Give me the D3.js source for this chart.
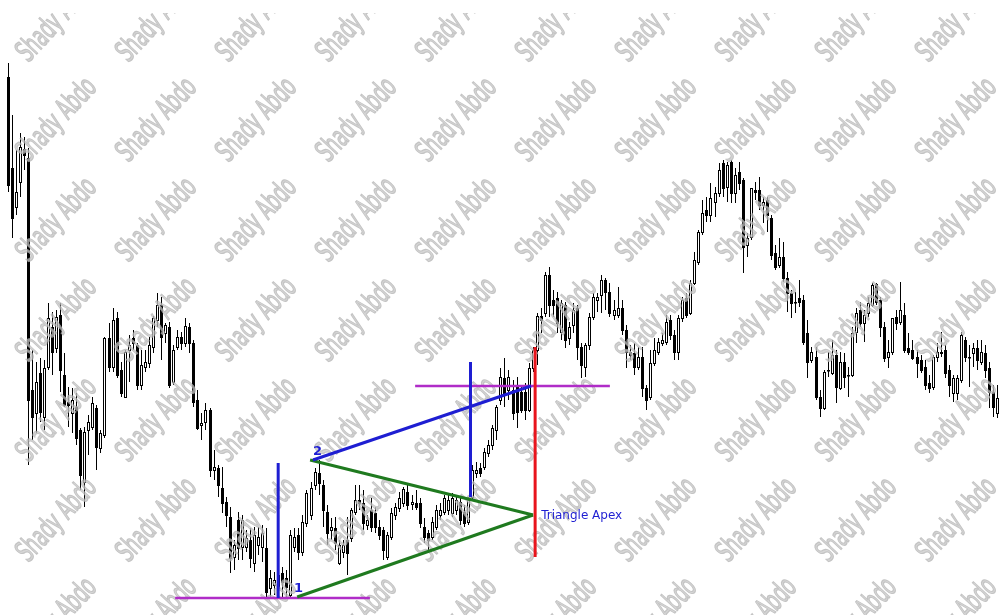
<!DOCTYPE html>
<html><head><meta charset="utf-8">
<script src="https://cdn.jsdelivr.net/npm/d3@7"></script>
<style>html,body{margin:0;padding:0;background:#fff;overflow:hidden}</style>
</head><body><svg id="chart" width="1001" height="615"></svg>
<script>
// OHLC prices (arbitrary price units), one entry per bar
const open  = [538,447,408,433,466,457,225,202,242,198,248,288,267,300,240,213,202,208,185,133,185,188,207,167,180,277,248,297,245,218,265,277,270,230,248,252,268,295,310,282,288,233,268,278,272,288,272,215,190,193,205,145,147,127,113,98,58,95,68,68,75,52,70,68,67,27,30,40,42,37,20,68,80,63,92,100,130,142,130,103,85,87,52,63,75,77,103,115,112,90,105,102,88,85,58,78,100,107,112,123,111,112,112,88,82,78,88,100,103,105,102,105,113,103,93,118,142,147,148,162,170,185,215,237,225,225,230,223,223,205,247,265,299,302,340,315,317,283,310,277,290,307,268,248,270,298,315,320,335,323,300,300,307,285,263,262,248,258,227,218,252,263,272,273,295,280,263,297,317,302,332,353,383,405,400,413,422,452,428,453,422,443,435,370,378,425,425,410,415,397,362,350,358,337,322,313,317,315,282,255,258,218,207,245,242,260,227,253,240,240,283,305,292,302,310,331,315,288,258,263,298,293,300,267,265,258,255,248,232,228,258,263,265,245,222,222,235,275,258,262,267,253,262,247,223,202];
const high  = [552,500,465,482,478,467,265,253,257,255,312,303,305,312,262,228,227,222,187,188,200,218,210,185,278,292,307,303,253,265,280,285,272,265,265,278,299,322,318,292,293,270,285,283,297,292,275,225,202,212,207,165,150,148,118,108,75,103,100,85,87,88,88,90,87,45,43,50,48,45,85,87,87,100,125,133,147,155,135,110,97,98,75,75,98,107,130,130,125,100,117,108,95,88,83,107,112,123,128,130,120,125,117,97,85,98,110,112,120,120,122,118,118,110,118,150,153,152,167,175,190,210,247,257,245,235,238,230,232,252,268,302,307,343,348,325,323,315,313,293,312,310,272,272,302,322,322,340,337,332,315,328,315,290,270,272,268,268,230,265,277,277,282,300,300,285,300,318,322,335,363,385,415,418,432,428,452,455,453,455,447,453,437,382,427,433,438,418,418,400,370,377,373,343,325,323,335,320,295,268,268,225,245,263,275,265,263,262,248,288,307,313,305,318,332,332,318,293,275,297,305,333,312,282,275,265,260,255,240,260,272,283,270,250,240,240,283,278,270,272,275,275,270,253,230,230];
const low   = [423,377,400,418,445,150,175,182,193,185,245,240,262,223,208,188,182,170,125,108,160,185,145,162,177,243,243,237,218,217,233,265,225,225,243,247,262,288,255,272,227,230,265,265,268,262,208,185,175,185,138,135,118,102,88,42,45,55,55,63,47,43,60,53,17,18,20,18,18,18,17,63,55,59,88,95,125,120,88,70,75,65,50,57,40,73,100,105,85,85,83,82,75,55,55,75,95,103,108,105,105,105,87,72,62,75,85,95,100,100,98,100,90,88,90,115,137,138,145,158,165,175,210,208,215,195,187,202,195,203,243,250,282,298,298,298,282,275,267,270,282,255,237,238,265,295,303,302,305,298,295,297,280,247,255,240,245,218,205,215,249,260,269,270,275,255,255,293,297,300,330,350,380,393,393,398,418,418,413,412,412,425,342,358,375,415,405,392,383,355,345,347,333,303,297,302,308,270,237,252,215,198,205,238,240,212,225,227,218,238,272,288,273,298,308,310,278,253,247,260,285,290,262,260,255,237,242,225,222,225,253,258,237,218,213,215,232,253,228,248,245,250,237,207,198,197];
const close = [430,397,423,468,460,215,198,233,203,247,297,263,298,245,210,210,215,177,140,183,193,212,168,182,277,248,295,240,222,263,270,272,230,250,253,270,297,310,278,290,230,265,278,272,289,272,213,187,192,205,145,148,130,112,100,57,70,67,95,77,57,80,78,82,23,37,35,27,33,28,80,78,63,93,122,127,143,132,105,82,88,72,70,70,62,105,115,112,92,95,88,88,80,65,80,102,108,117,126,110,113,108,92,78,75,93,105,105,117,115,117,115,95,92,115,145,145,142,163,170,187,208,238,222,238,202,203,205,205,247,265,299,295,340,310,310,292,312,275,288,305,268,250,270,298,318,318,335,323,302,305,307,285,263,260,248,258,227,215,252,265,273,275,293,280,263,297,315,300,332,355,383,402,400,417,422,445,427,450,422,440,432,368,377,427,423,410,413,400,360,348,358,337,322,312,313,313,273,253,263,218,207,243,245,260,228,253,238,240,282,302,292,300,312,330,313,288,257,263,297,292,305,265,263,257,252,245,230,227,258,263,262,242,230,237,237,280,258,258,267,255,263,245,223,208,217];

// Annotations (bar index, price)
const supportLines   = [{from:41.5, to:89.7, price:17}, {from:100.9, to:149.1, price:229}];
const triangleLines  = [{i1:71.7, p1:18, i2:130.1, p2:100}, {i1:74.9, p1:155, i2:130.1, p2:100}];
const projectionLine = [{i1:75.6, p1:155, i2:129.6, p2:229}];
const heightLines    = [{i:67, p1:152, p2:17}, {i:114.6, p1:253, p2:118}];
const apexLine       = [{i:130.6, p1:268, p2:58}];
const labels         = [{text:"1", i:70.9, p:23, bold:true}, {text:"2", i:75.6, p:160, bold:true}, {text:"Triangle Apex", i:132.1, p:96, bold:false}];
const watermarkText  = "Shady Abdo";

const W = 1001, H = 615;
const svg = d3.select("#chart");
const N = open.length;
const x = d3.scaleLinear().domain([0, N - 1]).range([7.5, 997.3]);
const y = d3.scaleLinear().domain([0, 615]).range([H, 0]);

const bars = d3.range(N).map(i => ({i, o:open[i], h:high[i], l:low[i], c:close[i]}));
const g = svg.append("g");
g.selectAll("line.wick").data(bars).join("line")
  .attr("x1", d => Math.round(x(d.i)) + 0.5).attr("x2", d => Math.round(x(d.i)) + 0.5)
  .attr("y1", d => y(d.h)).attr("y2", d => y(d.l))
  .attr("stroke", "#000").attr("stroke-width", 1);
g.selectAll("rect.body").data(bars).join("rect")
  .attr("x", d => Math.round(x(d.i)) - 0.5)
  .attr("width", 2)
  .attr("y", d => Math.round(y(Math.max(d.o, d.c))) + 0.5)
  .attr("height", d => Math.max(0.5, Math.round(y(Math.min(d.o, d.c)) - y(Math.max(d.o, d.c)))))
  .attr("fill", d => d.c >= d.o ? "#fff" : "#000")
  .attr("stroke", "#000").attr("stroke-width", 1);

// watermark grid (clipped to the picture area below the thin top margin)
svg.append("defs").append("clipPath").attr("id", "wmclip")
  .append("rect").attr("x", 0).attr("y", 13).attr("width", W).attr("height", H - 13);
const wm = svg.append("g").attr("clip-path", "url(#wmclip)").attr("opacity", 0.78);
const cols = d3.range(0, 11), rows = d3.range(0, 7);
rows.forEach(r => cols.forEach(c => {
  wm.append("text")
    .attr("transform", `translate(${57 + c * 100},${20 + r * 100}) rotate(-47) scale(1,1.55)`)
    .attr("text-anchor", "middle").attr("dominant-baseline", "middle")
    .attr("font-family", "'DejaVu Sans Condensed','Liberation Sans Narrow',sans-serif")
    .attr("font-size", 19)
    .attr("fill", "#cdcdcd").attr("stroke", "#b4b4b4").attr("stroke-width", 0.9)
    .text(watermarkText);
}));

const ann = svg.append("g");
const MAG = "#b02cc8", BLUE = "#1e1ed2", GREEN = "#1f7a1f", RED = "#e8141c";
ann.selectAll("line.sup").data(supportLines).join("line")
  .attr("x1", d => x(d.from)).attr("x2", d => x(d.to))
  .attr("y1", d => y(d.price)).attr("y2", d => y(d.price))
  .attr("stroke", MAG).attr("stroke-width", 2.5);
ann.selectAll("line.tri").data(triangleLines).join("line")
  .attr("x1", d => x(d.i1)).attr("y1", d => y(d.p1)).attr("x2", d => x(d.i2)).attr("y2", d => y(d.p2))
  .attr("stroke", GREEN).attr("stroke-width", 3);
ann.selectAll("line.proj").data(projectionLine).join("line")
  .attr("x1", d => x(d.i1)).attr("y1", d => y(d.p1)).attr("x2", d => x(d.i2)).attr("y2", d => y(d.p2))
  .attr("stroke", BLUE).attr("stroke-width", 3);
ann.selectAll("line.hgt").data(heightLines).join("line")
  .attr("x1", d => x(d.i)).attr("x2", d => x(d.i)).attr("y1", d => y(d.p1)).attr("y2", d => y(d.p2))
  .attr("stroke", BLUE).attr("stroke-width", 3);
ann.selectAll("line.apex").data(apexLine).join("line")
  .attr("x1", d => x(d.i)).attr("x2", d => x(d.i)).attr("y1", d => y(d.p1)).attr("y2", d => y(d.p2))
  .attr("stroke", RED).attr("stroke-width", 3);
ann.selectAll("text.lbl").data(labels).join("text")
  .attr("x", d => x(d.i)).attr("y", d => y(d.p))
  .attr("font-family", "'DejaVu Sans',sans-serif")
  .attr("font-size", d => d.bold ? 13 : 12)
  .attr("font-weight", d => d.bold ? "bold" : "normal")
  .attr("fill", BLUE)
  .text(d => d.text);
</script></body></html>
